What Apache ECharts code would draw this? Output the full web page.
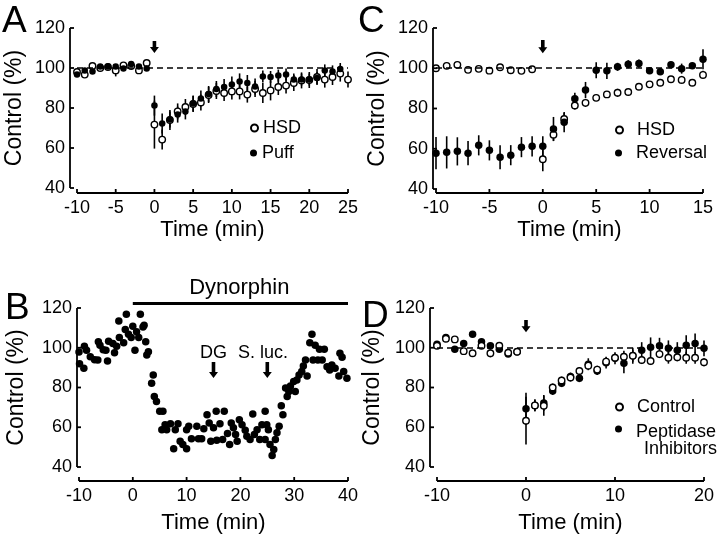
<!DOCTYPE html>
<html>
<head>
<meta charset="utf-8">
<script src="https://cdn.jsdelivr.net/npm/echarts@6/dist/echarts.min.js"></script>
<style>
html, body { margin: 0; padding: 0; background: #fff; }
#main { width: 720px; height: 540px; }
</style>
</head>
<body>
<div id="main"></div>
<script>
var FONT = '"Liberation Sans", Arial, Helvetica, sans-serif';

// A: HSD vs puff application
var timeA = [-10,-9,-8,-7,-6,-5,-4,-3,-2,-1,0,1,2,3,4,5,6,7,8,9,10,11,12,13,14,15,16,17,18,19,20,21,22,23,24,25];
var hsdA = [98,96.7,101,100,100.5,98.8,101.3,101,98.8,102.5,71.7,64.2,74,78.3,80.5,82,82.8,86.5,88.5,87.5,88.3,88.3,86.7,89.5,87.5,88.8,90.5,91.2,92.5,93.8,94,95.5,94.2,95.5,97.2,94.2];
var hsdAErr = [1,1,1,1,1,3,1,1,1,1,12,5,5,4,4,4,4,4,4,4,4,4,4,4,5,5,4,4,4,4,4,4,4,4,4,4];
var puffA = [96.7,98.7,98.3,100.8,100.8,100.8,99.7,102,100.8,99.7,81.2,72.2,74.2,76.7,78.3,82.2,84.7,87,89.5,90.5,91.7,93.3,92.5,90.8,95.8,95.5,96.2,96.7,94.2,94.2,94.2,95,98.8,98.3,99.5];
var puffAErr = [1,1,1,1,1,1,1,1,1,1,5,5,4,4,4,4,4,4,4,4,4,4,4,4,3,3,3,3,3,3,3,3,3,3,3];

// C: HSD vs reversal
var timeC = [-10,-9,-8,-7,-6,-5,-4,-3,-2,-1,0,1,2,3,4,5,6,7,8,9,10,11,12,13,14,15];
var hsdC = [100,101.2,101.7,99.2,99.7,98.8,100.5,99,98.7,99.5,54.8,67,74.8,81.5,82.8,85.3,87,87.8,88.2,90.8,92,92.8,94.5,94.2,92.8,96.7];
var hsdCErr = [0.5,0.5,0.5,0.5,0.5,0.5,0.5,0.5,0.5,0.5,6,3,3,2,2,1.5,1.5,2,1.5,1,1.5,1.5,1.5,2,1,2];
var revC = [57.8,58.2,58.7,57.8,61.7,59.2,55.8,56.8,60.8,61.2,61.2,69.8,73.2,84.8,89.2,99,98.7,100.7,102,102.3,98.7,98.3,101.7,99.8,101.2,104.5];
var revCErr = [8,8,7,6,5,5,6,5,5,5,5,6,5,3,4,4,4,2,2,2,1.5,1.5,1.5,2.5,1.5,5];

// B: dynorphin single experiment
var timeB = [-10,-9.9,-9.1,-9,-8.6,-7.9,-7.1,-6.5,-6.4,-6.1,-5.5,-5,-4.7,-4.5,-3.7,-3.4,-3,-2.6,-2.5,-1.7,-1.4,-1.2,-0.8,-0.3,0,0.4,0.7,1.1,1.4,1.9,2.1,2.4,2.6,2.9,3.5,3.8,4,4.4,5,5.6,5.4,6,6.3,7,7.6,7.9,8.4,8.8,9.3,10,10,10.4,10.9,11.9,12.2,12.8,13.2,13.8,14.2,14.5,15,15.5,15.6,16.2,16.7,17,17.6,18,18.3,18.7,19.1,19.4,19.8,20.3,20.9,21.2,21.8,22.3,22.6,23.1,23.6,24,24.6,24.6,24.9,25.2,25.5,25.9,26.2,26.5,26.8,27.2,27.6,27.9,28.4,28.7,29,29.3,29.9,30.2,30.5,30.9,31.4,31.7,32.1,32.4,32.9,33.3,33.5,33.9,34.4,34.7,35.2,35.6,36.1,36.6,37,37.6,38.3,38.5,38.9,39.2,39.8];
var dynB = [97.9,92,89.7,100.8,98.8,95.5,94,93.8,103,101.3,99,98.8,93.3,103.3,102.2,97.5,100.8,113.5,105.2,102.5,109.2,116.8,106.8,105.2,110.8,98.8,108,105.2,116.8,110.5,111.3,103,96.3,98,82.2,86.3,75.5,73,68,68,58.8,61.3,58.8,61.8,49.2,58.8,61.8,53,51.3,49.2,58.8,60.5,54.2,60.5,54.2,54.2,59.2,66.3,62.2,53,59.7,68,53.5,61.8,53.8,68,56.8,51.3,62.2,59.7,56.3,53,63.8,61.3,58.5,55.5,53.8,66.7,56.3,58.8,53.8,61.3,68,53.8,61.3,58.8,51.3,45.8,48.8,53.8,57.2,60.5,70.8,66.3,79.7,75.5,78,80.8,83,78,83.8,86.3,88,90.8,93.8,85.8,102.5,106.8,93.8,101.3,93.8,99.2,93.8,99.2,90.5,88.8,91.3,89.7,85.8,97.2,95.2,88,84.7];

// D: control vs peptidase inhibitors
var timeD = [-10,-9,-8,-7,-6,-5,-4,-3,-2,-1,0,1,2,3,4,5,6,7,8,9,10,11,12,13,14,15,16,17,18,19,20];
var ctrlD = [101,104.5,104.2,98.3,97.2,101,97.2,101,97.5,98,63.3,71,70.8,80,83.5,85,88.3,91,89,93,95,95.5,96,93.8,93.3,96.8,95,95.2,95,95,92.7];
var ctrlDErr = [1,1,1,1,1,1,2,1,1,1,12,3,5,2,2,2,2,2,2,2,2,3,3,2,2,2,3,2,3,3,2];
var pepD = [101.7,105.2,99.2,102.2,106.8,103,101,99.2,96.8,98,69.3,71,72.2,78.3,82.2,85.5,84.7,91.7,88.3,92.5,94.7,92.2,96,98.8,100.2,101,99.7,98.8,101.3,102.2,99.7];
var pepDErr = [1,1,1,1,1,1,1,1,1,1,8,3,4,2,2,2,2,3,2,3,3,5,4,4,5,4,4,4,5,5,4];

var chart = echarts.init(document.getElementById('main'), null, { renderer: 'canvas' });

function pairs(t, v) {
    return v.map(function (y, i) { return [t[i], y]; });
}
function errs(t, v, e) {
    return v.map(function (y, i) { return [t[i], y - e[i], y + e[i]]; });
}
function errBar(params, api) {
    var lo = api.coord([api.value(0), api.value(1)]);
    var hi = api.coord([api.value(0), api.value(2)]);
    return {
        type: 'line',
        shape: { x1: lo[0], y1: lo[1], x2: hi[0], y2: hi[1] },
        style: { stroke: '#000', lineWidth: 1.6 }
    };
}

var grids = [
    { left: 77, top: 28, width: 271, height: 160 },   // A
    { left: 436, top: 28, width: 267, height: 161 },  // C
    { left: 79, top: 308, width: 269, height: 159 },  // B
    { left: 437, top: 308, width: 267, height: 159 }  // D
];
var xRange = [[-10, 25, 5], [-10, 15, 5], [-10, 40, 10], [-10, 20, 10]];
var yRange = [40, 120, 20];
var xOff = [5, 4, 14, 14];
var yOff = [7, 3, 2, 7];
var xGap = [26, 26, 31, 31];
var yGap = [44, 44, 49, 46];

var xAxes = grids.map(function (g, i) {
    return {
        type: 'value', gridIndex: i, position: 'bottom',
        min: xRange[i][0], max: xRange[i][1], interval: xRange[i][2],
        offset: xOff[i],
        name: 'Time (min)', nameLocation: 'middle', nameGap: xGap[i],
        nameTextStyle: { fontFamily: FONT, fontSize: 22, color: '#000' },
        axisLine: { show: false }, axisTick: { show: false },
        axisLabel: { margin: 6, fontFamily: FONT, fontSize: 18, color: '#000' },
        splitLine: { show: false }
    };
});
var yAxes = grids.map(function (g, i) {
    return {
        type: 'value', gridIndex: i, position: 'left',
        min: yRange[0], max: yRange[1], interval: yRange[2],
        offset: yOff[i],
        name: 'Control (%)', nameLocation: 'middle', nameGap: yGap[i],
        nameTextStyle: { fontFamily: FONT, fontSize: 23, color: '#000' },
        axisLine: { show: false, onZero: false }, axisTick: { show: false },
        axisLabel: { margin: 5, fontFamily: FONT, fontSize: 18, color: '#000' },
        splitLine: { show: false }
    };
});

// detached axis frame drawn by a custom series: y line left of the plot,
// x line below it, ticks pointing inward
function frameSeries(i) {
    var r = xRange[i];
    return {
        type: 'custom', xAxisIndex: i, yAxisIndex: i, silent: true, clip: false, z: 4,
        data: [[r[0], yRange[0]]],
        renderItem: function (params, api) {
            var lo = api.coord([r[0], yRange[0]]);
            var hi = api.coord([r[1], yRange[1]]);
            var ax = lo[0] - yOff[i], ay = lo[1] + xOff[i];
            var st = { stroke: '#000', lineWidth: 1.8 };
            var kids = [
                { type: 'line', shape: { x1: ax, y1: hi[1], x2: ax, y2: lo[1] }, style: st },
                { type: 'line', shape: { x1: lo[0], y1: ay, x2: hi[0], y2: ay }, style: st }
            ];
            var v, p;
            for (v = yRange[0]; v <= yRange[1]; v += yRange[2]) {
                p = api.coord([r[0], v]);
                kids.push({ type: 'line', shape: { x1: ax, y1: p[1], x2: ax + 4, y2: p[1] }, style: st });
            }
            for (v = r[0]; v <= r[1]; v += r[2]) {
                p = api.coord([v, yRange[0]]);
                kids.push({ type: 'line', shape: { x1: p[0], y1: ay, x2: p[0], y2: ay - 4 }, style: st });
            }
            return { type: 'group', children: kids };
        }
    };
}

function dashed(i, x0, x1) {
    return {
        silent: true, symbol: ['none', 'none'], animation: false,
        label: { show: false },
        lineStyle: { color: '#000', type: [6, 4], width: 1.5 },
        data: [[{ coord: [x0, 100] }, { coord: [x1, 100] }]]
    };
}
function errSeries(i, data, line) {
    var s = {
        type: 'custom', xAxisIndex: i, yAxisIndex: i, renderItem: errBar,
        encode: { x: 0, y: [1, 2] }, data: data, z: 1, silent: true
    };
    if (line) s.markLine = line;
    return s;
}
function openSeries(name, i, data, z) {
    return {
        name: name, type: 'scatter', xAxisIndex: i, yAxisIndex: i, data: data,
        symbol: 'circle', symbolSize: 6.5, z: z,
        itemStyle: { color: '#fff', borderColor: '#000', borderWidth: 1.4, opacity: 1 }
    };
}
function fillSeries(name, i, data, z, size) {
    return {
        name: name, type: 'scatter', xAxisIndex: i, yAxisIndex: i, data: data,
        symbol: 'circle', symbolSize: size || 7, z: z,
        itemStyle: { color: '#000', opacity: 1 }
    };
}

function legendItem(name, cx, cy, textPad, threeLine) {
    var lg = {
        data: [name], left: cx - 4, top: cy - 10, padding: 0,
        itemWidth: 7, itemHeight: 7, selectedMode: false,
        textStyle: { fontFamily: FONT, fontSize: 18, lineHeight: 20, color: '#000', padding: [0, 0, 0, textPad] }
    };
    if (threeLine) {
        // blank first line keeps "Peptidase" level with the marker
        lg.top = cy - 30;
        lg.formatter = function () { return '{s| }\n{a|Peptidase}\n{b|Inhibitors}'; };
        lg.textStyle.rich = {
            s: { fontFamily: FONT, fontSize: 18, lineHeight: 20 },
            a: { fontFamily: FONT, fontSize: 18, lineHeight: 20, color: '#000' },
            b: { fontFamily: FONT, fontSize: 18, lineHeight: 14, color: '#000', padding: [0, 0, 0, 8] }
        };
    }
    return lg;
}

chart.setOption({
    animation: false,
    backgroundColor: '#fff',
    grid: grids,
    xAxis: xAxes,
    yAxis: yAxes,
    legend: [
        legendItem('HSD', 254, 128, 0),
        legendItem('Puff', 254, 153, 0),
        legendItem('HSD ', 619, 130, 9),
        legendItem('Reversal', 619, 153, 9),
        legendItem('Control', 619, 407, 9),
        legendItem('Peptidase Inhibitors', 619, 432, 9, true)
    ],
    series: [
        frameSeries(0), frameSeries(1), frameSeries(2), frameSeries(3),

        errSeries(0, errs(timeA, hsdA, hsdAErr).concat(errs(timeA, puffA, puffAErr)), dashed(0, -10, 25)),
        openSeries('HSD', 0, pairs(timeA, hsdA), 2),
        fillSeries('Puff', 0, pairs(timeA, puffA), 3, 6.5),

        errSeries(1, errs(timeC, hsdC, hsdCErr).concat(errs(timeC, revC, revCErr)), dashed(1, -10, 15)),
        openSeries('HSD ', 1, pairs(timeC, hsdC), 2),
        fillSeries('Reversal', 1, pairs(timeC, revC), 3, 7.5),

        fillSeries('Dynorphin', 2, pairs(timeB, dynB), 3, 7.5),

        errSeries(3, errs(timeD, ctrlD, ctrlDErr).concat(errs(timeD, pepD, pepDErr)), dashed(3, -10, 20)),
        fillSeries('Peptidase Inhibitors', 3, pairs(timeD, pepD), 2, 7.5),
        openSeries('Control', 3, pairs(timeD, ctrlD), 3)
    ]
});

// annotations placed through the axes
function px(gi, x, y) { return chart.convertToPixel({ gridIndex: gi }, [x, y]); }
function arrow(gi, x, yTop, yTip) {
    var a = px(gi, x, yTop), b = px(gi, x, yTip);
    var cx = a[0], t = a[1], tip = b[1], head = 6, sw = 1.8, hw = 4.5;
    return {
        type: 'polygon', silent: true,
        shape: { points: [[cx - sw, t], [cx + sw, t], [cx + sw, tip - head], [cx + hw, tip - head], [cx, tip], [cx - hw, tip - head], [cx - sw, tip - head]] },
        style: { fill: '#000' }
    };
}
function label(gi, x, y, text, size) {
    var p = px(gi, x, y);
    return {
        type: 'text', x: p[0], y: p[1], silent: true,
        style: { text: text, fontFamily: FONT, fontSize: size, fill: '#000', align: 'center', verticalAlign: 'middle' }
    };
}
var b0 = px(2, 0, 122.3), b1 = px(2, 40, 122.3);
var letterStyle = { fontFamily: FONT, fontSize: 37, fill: '#000' };

chart.setOption({
    graphic: [
        { type: 'text', left: 2, top: 3, style: Object.assign({ text: 'A' }, letterStyle) },
        { type: 'text', left: 358, top: 3, style: Object.assign({ text: 'C' }, letterStyle) },
        { type: 'text', left: 5, top: 290, style: Object.assign({ text: 'B' }, letterStyle) },
        { type: 'text', left: 362, top: 298, style: Object.assign({ text: 'D' }, letterStyle) },
        arrow(0, 0, 113.5, 107.5),
        arrow(1, 0, 114, 107.5),
        arrow(3, 0, 114, 107.8),
        arrow(2, 15, 92.8, 84.8),
        arrow(2, 25, 92.8, 84.8),
        label(2, 15, 97.2, 'DG', 18),
        label(2, 24.2, 97.2, 'S. luc.', 18),
        label(2, 19.8, 129.9, 'Dynorphin', 22),
        {
            type: 'line', silent: true,
            shape: { x1: b0[0], y1: b0[1], x2: b1[0], y2: b1[1] },
            style: { stroke: '#000', lineWidth: 3 }
        }
    ]
});
</script>
</body>
</html>
